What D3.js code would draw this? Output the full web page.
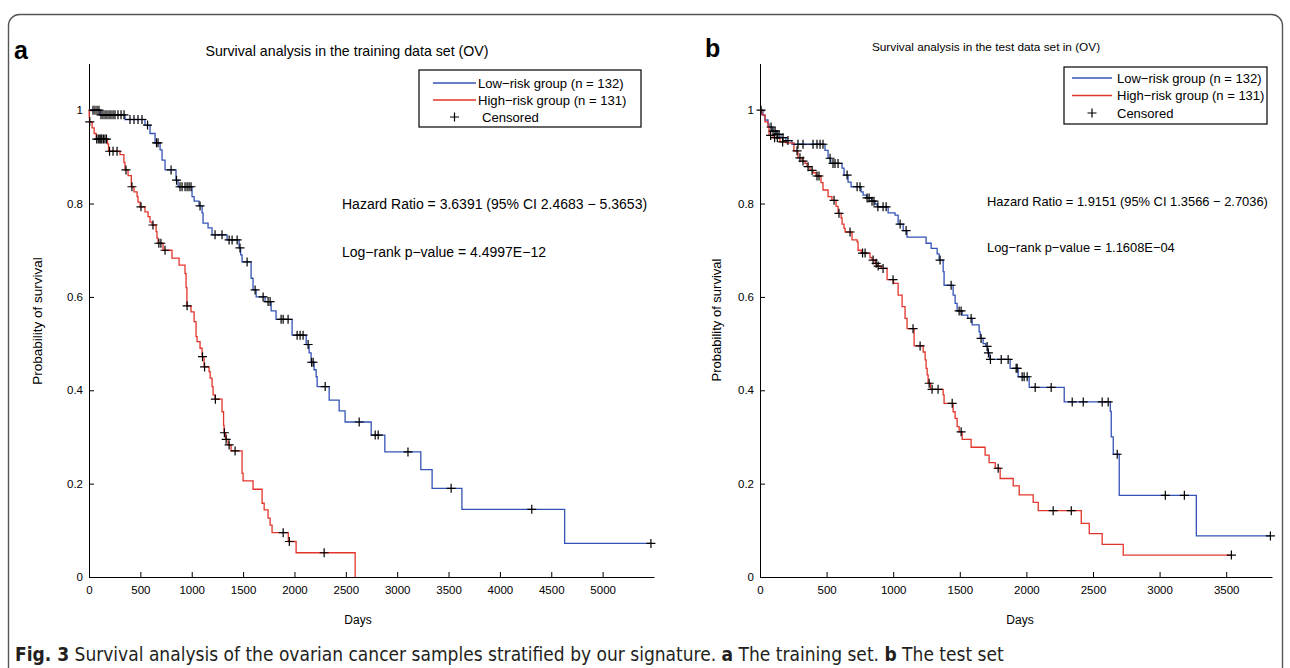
<!DOCTYPE html>
<html><head><meta charset="utf-8">
<script src="https://cdn.jsdelivr.net/npm/d3@7"></script>
<style>
body{margin:0;background:#fff;}
text{font-family:"Liberation Sans",Arial,Helvetica,sans-serif;fill:#000;}
</style></head>
<body><svg id="chart" width="1290" height="668"></svg>
<script>
// ---------------- DATA ----------------
const yTicks = [0, 0.2, 0.4, 0.6, 0.8, 1];
const aXTicks = [0, 500, 1000, 1500, 2000, 2500, 3000, 3500, 4000, 4500, 5000];
const bXTicks = [0, 500, 1000, 1500, 2000, 2500, 3000, 3500];

// Panel a (training set)
const aLowTimes = [0,107,351,545,594,643,692,711,740,847,867,1003,1023,1071,1101,1110,1159,1198,1344,1461,1476,1490,1578,1597,1627,1714,1773,1821,1977,2114,2143,2162,2191,2211,2221,2338,2435,2493,2747,2880,3230,3340,3630,4630];
const aLowSurv = [1,0.99,0.98,0.968,0.95,0.93,0.915,0.893,0.872,0.85,0.836,0.815,0.805,0.795,0.78,0.758,0.748,0.733,0.722,0.705,0.69,0.675,0.64,0.615,0.6,0.59,0.57,0.552,0.518,0.498,0.48,0.46,0.444,0.429,0.408,0.379,0.356,0.332,0.304,0.268,0.23,0.19,0.145,0.072];
const aLowCensor = [39,58,78,97,117,136,156,175,195,214,234,253,282,312,341,399,438,477,516,570,657,672,799,852,886,906,935,955,974,993,1081,1227,1295,1364,1393,1442,1470,1539,1617,1695,1743,1763,1870,1890,1938,2026,2055,2084,2133,2167,2182,2299,2630,2786,2815,3105,3525,4310,5470];

const aHighTimes = [0,2,5,30,50,70,180,190,302,340,350,380,412,438,468,477,497,545,575,594,614,653,662,672,721,808,877,935,945,953,993,1023,1042,1052,1081,1101,1120,1169,1179,1198,1208,1227,1295,1310,1315,1330,1354,1383,1490,1500,1597,1685,1705,1743,1763,1782,1940,2016,2591];
const aHighSurv = [1,0.985,0.975,0.962,0.95,0.938,0.928,0.912,0.905,0.888,0.872,0.86,0.836,0.825,0.815,0.803,0.793,0.782,0.772,0.76,0.754,0.74,0.726,0.715,0.7,0.683,0.668,0.65,0.62,0.581,0.568,0.547,0.515,0.504,0.49,0.472,0.45,0.44,0.426,0.408,0.39,0.381,0.354,0.325,0.309,0.295,0.283,0.27,0.222,0.206,0.188,0.158,0.144,0.126,0.111,0.095,0.076,0.052,0];
const aHighCensor = [7,75,90,105,115,125,140,155,170,200,234,273,360,418,506,623,680,700,740,955,1105,1125,1230,1318,1335,1364,1422,1890,1950,2289];

// Panel b (test set)
const bLowTimes = [0,23,38,60,68,90,120,158,195,240,488,511,531,616,631,661,684,759,774,800,838,864,880,962,1014,1037,1075,1104,1247,1285,1330,1345,1375,1382,1450,1465,1480,1518,1560,1593,1645,1653,1675,1695,1710,1725,1878,1938,2021,2284,2630,2637,2652,2697,3276];
const bLowSurv = [1,0.989,0.979,0.97,0.964,0.955,0.948,0.941,0.935,0.927,0.914,0.897,0.886,0.876,0.861,0.846,0.836,0.825,0.818,0.812,0.805,0.799,0.793,0.78,0.775,0.756,0.742,0.728,0.715,0.704,0.692,0.679,0.654,0.625,0.604,0.586,0.57,0.561,0.554,0.54,0.525,0.511,0.5,0.494,0.48,0.466,0.447,0.429,0.406,0.375,0.355,0.3,0.263,0.175,0.088];
const bLowCensor = [8,83,98,113,128,143,173,210,285,323,398,428,451,473,526,548,563,586,654,729,751,804,819,841,856,885,924,947,1052,1097,1352,1435,1495,1510,1585,1660,1705,1715,1730,1811,1863,1923,1931,1968,1983,2006,2066,2186,2344,2427,2569,2614,2682,3043,3186,3832];

const bHighTimes = [0,15,38,60,68,98,150,195,255,285,316,338,353,376,398,421,458,473,511,540,571,586,609,616,631,639,691,729,736,760,826,841,864,879,909,954,1003,1037,1067,1089,1104,1157,1225,1240,1247,1255,1262,1280,1375,1382,1450,1465,1480,1495,1518,1585,1690,1720,1766,1803,1901,1946,2051,2089,2412,2472,2569,2727];
const bHighSurv = [1,0.99,0.975,0.964,0.946,0.941,0.932,0.93,0.913,0.898,0.891,0.886,0.879,0.871,0.866,0.859,0.845,0.829,0.815,0.807,0.794,0.779,0.769,0.756,0.747,0.739,0.722,0.718,0.7,0.694,0.684,0.679,0.672,0.666,0.661,0.637,0.629,0.604,0.579,0.554,0.532,0.495,0.482,0.465,0.447,0.433,0.415,0.402,0.39,0.372,0.354,0.34,0.322,0.311,0.295,0.278,0.261,0.245,0.233,0.211,0.195,0.176,0.16,0.142,0.115,0.093,0.07,0.047];
const bHighCensor = [80,110,130,170,278,300,323,361,391,428,443,556,593,676,770,789,849,872,887,924,999,1149,1202,1270,1292,1337,1443,1510,1788,2201,2337,3539];

const legendLabels = ["Low\u2212risk group (n = 132)", "High\u2212risk group (n = 131)", "Censored"];

// ---------------- DRAW ----------------
const svg = d3.select("#chart");
svg.append("rect").attr("width",1290).attr("height",668).attr("fill","#fff");
svg.append("rect").attr("x",8.5).attr("y",14.5).attr("width",1274).attr("height",700)
  .attr("rx",11).attr("fill","none").attr("stroke","#555").attr("stroke-width",1.4);

const BLUE = "#3453b6", RED = "#e3342b";

function panel(cfg){
  const x = d3.scaleLinear().domain([0,cfg.xmax]).range([cfg.x0,cfg.x1]);
  const y = d3.scaleLinear().domain([0,1.1]).range([577,63.5]);
  const g = svg.append("g");

  const ya = g.append("g").attr("transform",`translate(${cfg.x0},0)`)
    .call(d3.axisLeft(y).tickValues(yTicks).tickSizeInner(-5).tickSizeOuter(0).tickPadding(6)
      .tickFormat(d=>String(d)));
  const xa = g.append("g").attr("transform",`translate(0,577)`)
    .call(d3.axisBottom(x).tickValues(cfg.xTicks).tickSizeInner(-5).tickSizeOuter(0).tickPadding(9)
      .tickFormat(d=>String(d)));
  [ya,xa].forEach(a=>{
    a.selectAll("path,line").attr("stroke","#000").attr("stroke-width",1);
    a.selectAll("text").style("font-size","11.5px").attr("fill","#000");
  });

  const line = d3.line().x(d=>x(d[0])).y(d=>y(d[1]));
  function stepPts(times,surv,endT){
    const pts=[[times[0],surv[0]]];
    for(let i=1;i<times.length;i++){pts.push([times[i],surv[i-1]]);pts.push([times[i],surv[i]]);}
    if(endT>times[times.length-1]) pts.push([endT,surv[surv.length-1]]);
    return pts;
  }
  function survAt(times,surv,t){return surv[d3.bisectRight(times,t)-1];}

  const curves = [
    {t:cfg.lowT,s:cfg.lowS,c:cfg.lowC,col:BLUE},
    {t:cfg.highT,s:cfg.highS,c:cfg.highC,col:RED}
  ];
  curves.forEach(cv=>{
    g.append("path").attr("d",line(stepPts(cv.t,cv.s,d3.max(cv.c))))
      .attr("fill","none").attr("stroke",cv.col).attr("stroke-width",1.3);
  });
  curves.forEach(cv=>{
    g.selectAll(null).data(cv.c).enter().append("path")
      .attr("transform",d=>`translate(${x(d)},${y(survAt(cv.t,cv.s,d))})`)
      .attr("d","M-4.5,0H4.5M0,-4.5V4.5").attr("stroke","#000").attr("stroke-width",1.2).attr("fill","none");
  });

  g.append("text").attr("x",cfg.titleX).attr("y",cfg.titleY).attr("text-anchor","middle")
    .style("font-size",cfg.fTitle+"px").text(cfg.title);
  g.append("text").attr("x",cfg.daysX).attr("y",624).attr("text-anchor","middle")
    .style("font-size","12px").text("Days");
  g.append("text").attr("transform",`translate(${cfg.ylabX},${cfg.ylabY}) rotate(-90)`)
    .attr("text-anchor","middle").style("font-size",cfg.fYlab+"px").text("Probability of survival");
  g.append("text").attr("x",cfg.letterX).attr("y",cfg.letterY).style("font-size","25px")
    .style("font-weight","bold").text(cfg.letter);

  g.append("text").attr("x",cfg.statX).attr("y",cfg.hrY).style("font-size",cfg.fStat+"px").text(cfg.hr);
  g.append("text").attr("x",cfg.statX).attr("y",cfg.lrY).style("font-size",cfg.fStat+"px").text(cfg.lr);

  const L = cfg.leg;
  g.append("rect").attr("x",L.x).attr("y",L.y).attr("width",L.w).attr("height",L.h)
    .attr("fill","#fff").attr("stroke","#000").attr("stroke-width",1.2);
  const rows=[L.y+L.r0, L.y+L.r0+L.dr, L.y+L.r0+2*L.dr];
  [BLUE,RED].forEach((c,i)=>{
    g.append("line").attr("x1",L.lx0).attr("x2",L.lx1).attr("y1",rows[i]).attr("y2",rows[i])
      .attr("stroke",c).attr("stroke-width",1.3);
  });
  g.append("path").attr("transform",`translate(${(L.lx0+L.lx1)/2},${rows[2]})`)
    .attr("d","M-4.5,0H4.5M0,-4.5V4.5").attr("stroke","#000").attr("stroke-width",1.2);
  legendLabels.forEach((t,i)=>{
    g.append("text").attr("x",i==2?L.tx2:L.tx).attr("y",rows[i]).attr("dy","0.35em")
      .style("font-size",L.f+"px").text(t);
  });
}

panel({x0:89,x1:654,xmax:5500,xTicks:aXTicks,
  lowT:aLowTimes,lowS:aLowSurv,lowC:aLowCensor,highT:aHighTimes,highS:aHighSurv,highC:aHighCensor,
  title:"Survival analysis in the training data set (OV)",titleX:347,titleY:56,fTitle:14.2,
  daysX:358,ylabX:42,ylabY:321,fYlab:13.5,letter:"a",letterX:14,letterY:59,
  statX:342,hrY:209,lrY:257,fStat:14,
  hr:"Hazard Ratio = 3.6391 (95% CI 2.4683 \u2212 5.3653)",lr:"Log\u2212rank p\u2212value = 4.4997E\u221212",
  leg:{x:419,y:70,w:222,h:57,r0:13,dr:17,lx0:433,lx1:476,tx:478,tx2:482,f:13.1}});

panel({x0:760,x1:1272,xmax:3844,xTicks:bXTicks,
  lowT:bLowTimes,lowS:bLowSurv,lowC:bLowCensor,highT:bHighTimes,highS:bHighSurv,highC:bHighCensor,
  title:"Survival analysis in the test data set in (OV)",titleX:986,titleY:51,fTitle:11.8,
  daysX:1020,ylabX:721,ylabY:320,fYlab:13,letter:"b",letterX:705,letterY:57,
  statX:987,hrY:206,lrY:252,fStat:12.9,
  hr:"Hazard Ratio = 1.9151 (95% CI 1.3566 \u2212 2.7036)",lr:"Log\u2212rank p\u2212value = 1.1608E\u221204",
  leg:{x:1064,y:67,w:203,h:57,r0:11,dr:17.5,lx0:1072,lx1:1112,tx:1117,tx2:1117,f:13}});

const cap = svg.append("text").attr("x",15).attr("y",661)
  .style("font-family",'"Liberation Sans Narrow","DejaVu Sans Condensed",sans-serif')
  .style("font-size","19px").attr("fill","#231f20");
[["Fig. 3",true],[" Survival analysis of the ovarian cancer samples stratified by our signature. ",false],
 ["a",true],[" The training set. ",false],["b",true],[" The test set",false]].forEach(([t,b])=>{
  cap.append("tspan").style("font-weight",b?"bold":"normal").attr("fill","#231f20").text(t);
});
</script></body></html>
